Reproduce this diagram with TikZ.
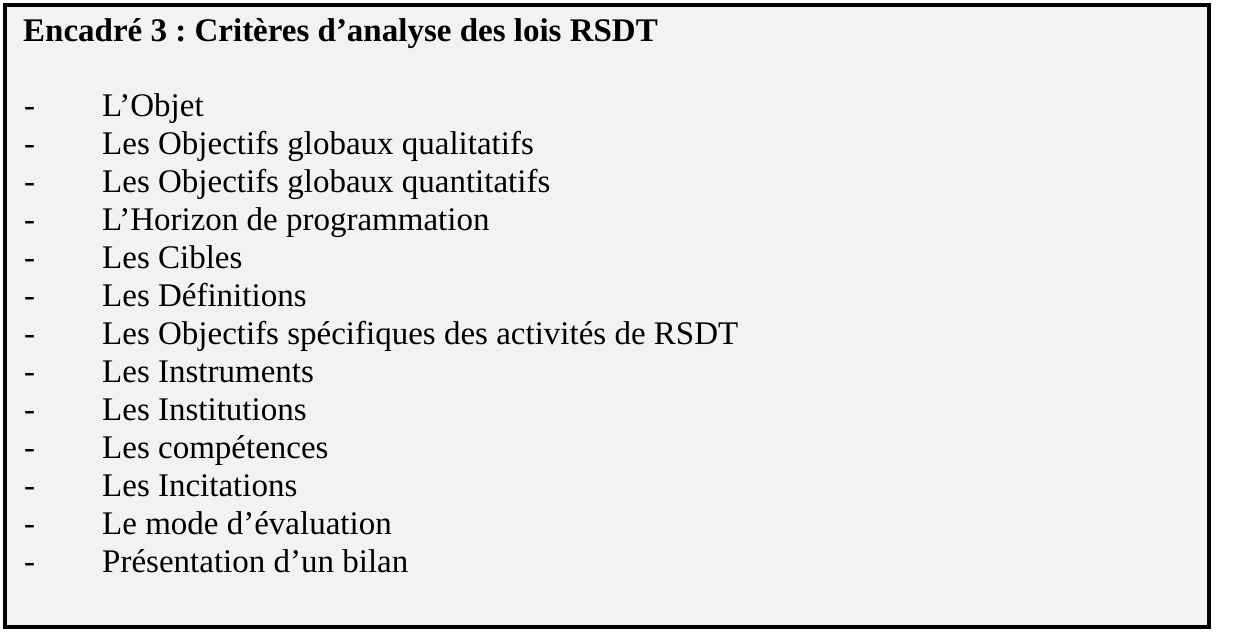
\documentclass[tikz,border=0pt]{standalone}
\usepackage{fontspec}
\setmainfont{Liberation Serif}
\usepackage{tikz}
\usetikzlibrary{positioning}
\definecolor{boxgray}{HTML}{F2F2F2}
\frenchspacing

\begin{document}
\begin{tikzpicture}[x=1pt, y=-1pt,
			frame/.style={draw=black, fill=boxgray, line width=4pt},
			heading/.style={anchor=base west, inner sep=0pt, font=\fontsize{33}{38}\selectfont\bfseries},
			bullet/.style={anchor=base west, inner sep=0pt, font=\fontsize{33}{38}\selectfont},
			item/.style={anchor=base west, inner sep=0pt, font=\fontsize{33}{38}\selectfont},
			]
			\useasboundingbox (0,0) rectangle (1258,635);
			%Frame
				\draw[frame] (5,5) rectangle (1209,627);
			%Nodes
				\node[heading]	(title)		at (23,41)		{Encadré 3 : Critères d’analyse des lois RSDT};
				\node[bullet]	(dash-1)	at (24,116)		{-};
				\node[item]		(item-1)	at (102,116)	{L’Objet};
				\node[bullet]	(dash-2)	at (24,154)		{-};
				\node[item]		(item-2)	at (102,154)	{Les Objectifs globaux qualitatifs};
				\node[bullet]	(dash-3)	at (24,192)		{-};
				\node[item]		(item-3)	at (102,192)	{Les Objectifs globaux quantitatifs};
				\node[bullet]	(dash-4)	at (24,230)		{-};
				\node[item]		(item-4)	at (102,230)	{L’Horizon de programmation};
				\node[bullet]	(dash-5)	at (24,268)		{-};
				\node[item]		(item-5)	at (102,268)	{Les Cibles};
				\node[bullet]	(dash-6)	at (24,306)		{-};
				\node[item]		(item-6)	at (102,306)	{Les Définitions};
				\node[bullet]	(dash-7)	at (24,344)		{-};
				\node[item]		(item-7)	at (102,344)	{Les Objectifs spécifiques des activités de RSDT};
				\node[bullet]	(dash-8)	at (24,382)		{-};
				\node[item]		(item-8)	at (102,382)	{Les Instruments};
				\node[bullet]	(dash-9)	at (24,420)		{-};
				\node[item]		(item-9)	at (102,420)	{Les Institutions};
				\node[bullet]	(dash-10)	at (24,458)		{-};
				\node[item]		(item-10)	at (102,458)	{Les compétences};
				\node[bullet]	(dash-11)	at (24,496)		{-};
				\node[item]		(item-11)	at (102,496)	{Les Incitations};
				\node[bullet]	(dash-12)	at (24,534)		{-};
				\node[item]		(item-12)	at (102,534)	{Le mode d’évaluation};
				\node[bullet]	(dash-13)	at (24,572)		{-};
				\node[item]		(item-13)	at (102,572)	{Présentation d’un bilan};
		\end{tikzpicture}
\end{document}
